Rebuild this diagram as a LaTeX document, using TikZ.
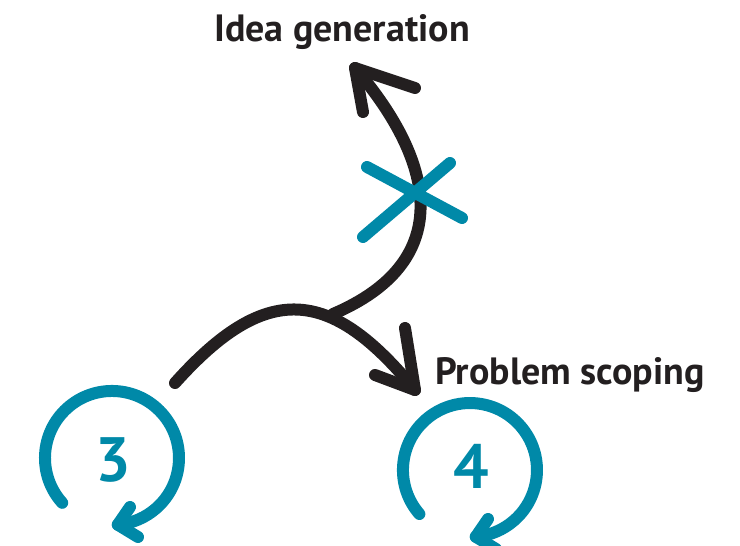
\documentclass[tikz,border=0pt]{standalone}
\usepackage{fontspec}
\setmainfont{PT Sans}
\usetikzlibrary{positioning}
\definecolor{inkblack}{HTML}{231F20}
\definecolor{loopblue}{HTML}{0089A8}

\begin{document}
\begin{tikzpicture}[
    x=0.75pt, y=-0.75pt,
    flow/.style={line width=9pt,draw=inkblack,line cap=round,line join=round},
    loop/.style={line width=9pt,draw=loopblue,line cap=round,line join=round},
    lab/.style={font=\fontsize{28.5}{31}\selectfont\bfseries,text=inkblack,inner sep=0pt},
    num/.style={font=\fontsize{47}{50}\selectfont\bfseries,text=loopblue,inner sep=0pt}
]
\useasboundingbox (0,0) rectangle (740,546);

% labels
\node[lab,anchor=base] (idea) at (342,41) {Idea generation};
\node[lab,anchor=base west] (scope) at (435,384) {Problem scoping};

% step numbers
\node[num] (n3) at (113,460) {3};
\node[num] (n4) at (471,466) {4};

% main arc towards problem scoping
\coordinate (a0) at (175,383);
\coordinate (atip) at (415,390);
\draw[flow] (a0) .. controls (265.5,281.75) and (330,286) .. (atip);
\draw[flow] (405,328) -- (atip) -- (375,375);

% branch towards idea generation
\coordinate (b0) at (333,314);
\coordinate (btip) at (355,68);
\draw[flow] (b0) .. controls (452.6,263) and (439.5,166.8) .. (btip);
\draw[flow] (415,88) -- (btip) -- (363,112);

% cross on the branch
\draw[loop] (367,167) -- (462,218);
\draw[loop] (363,237) -- (450,163);

% loop round step 3
\coordinate (l3s) at (62.2,502.8);
\draw[loop] (l3s) arc[start angle=222,end angle=-85,radius=50.25pt] coordinate (l3tip);
\draw[loop] (130,507) -- (l3tip) -- (138,537);

% loop round step 4
\coordinate (l4s) at (419.4,514);
\draw[loop] (l4s) arc[start angle=221,end angle=-85,radius=50.25pt] coordinate (l4tip);
\draw[loop] (488,519) -- (l4tip) -- (496,549);

\end{tikzpicture}
\end{document}
